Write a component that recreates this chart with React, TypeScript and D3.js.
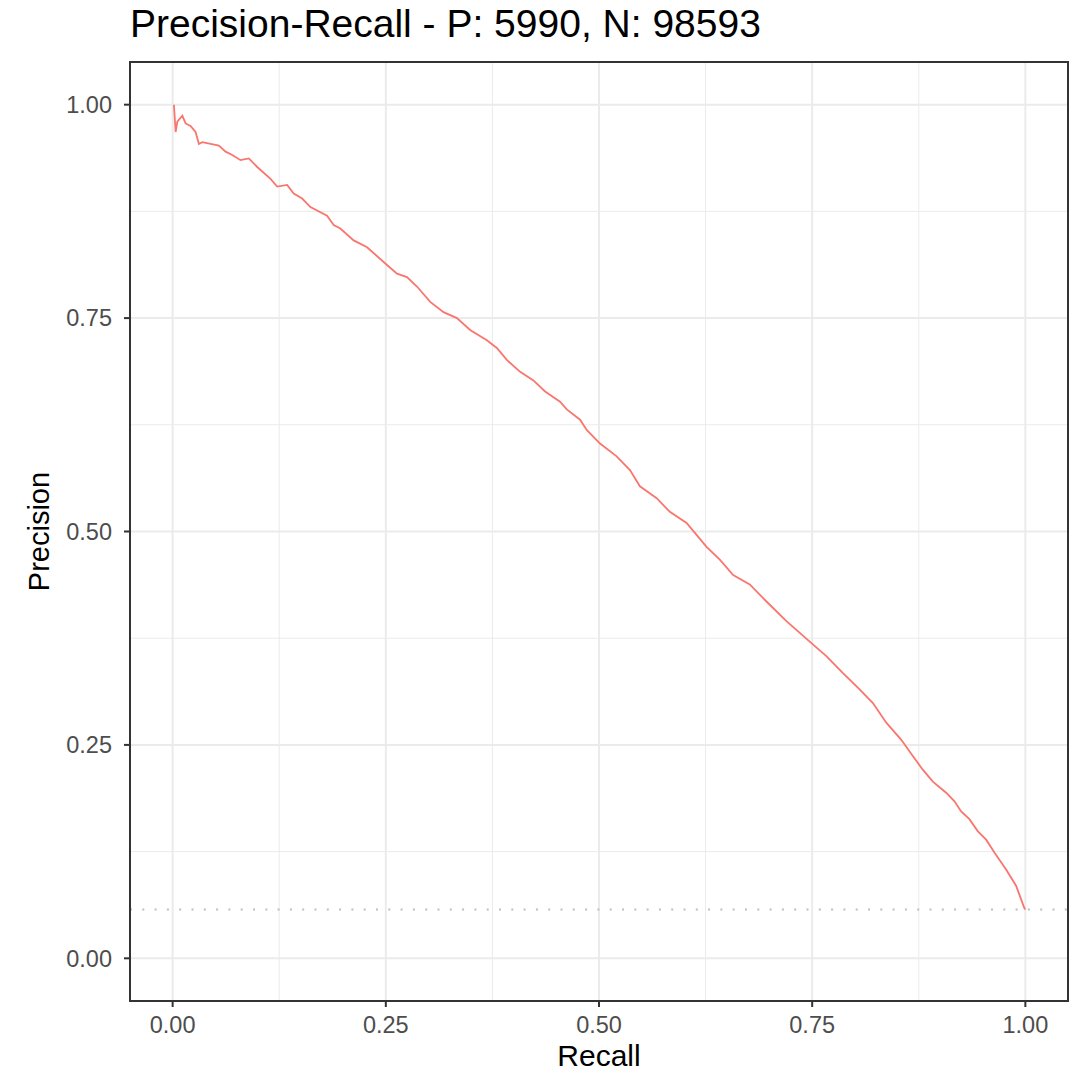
import * as d3 from "d3";

// precision-recall curve
const recall = [
  0.0015, 0.0035, 0.0055, 0.0114, 0.0152, 0.021, 0.0269, 0.0308, 0.0348, 0.0445,
  0.0542, 0.0621, 0.0699, 0.0796, 0.0893, 0.0992, 0.1148, 0.1226, 0.1343, 0.142,
  0.1519, 0.1616, 0.1811, 0.1889, 0.1967, 0.2123, 0.228, 0.2494, 0.2631, 0.2748,
  0.2865, 0.3021, 0.3177, 0.3334, 0.3489, 0.3685, 0.3802, 0.3919, 0.4075, 0.4231,
  0.4368, 0.4543, 0.4622, 0.4778, 0.4856, 0.5012, 0.5207, 0.5363, 0.548, 0.5676,
  0.5831, 0.6027, 0.6144, 0.6261, 0.6417, 0.6573, 0.6768, 0.6964, 0.7198, 0.7471,
  0.7666, 0.7861, 0.8056, 0.8212, 0.8369, 0.8545, 0.868, 0.8797, 0.8915, 0.9071,
  0.9169, 0.9247, 0.9344, 0.9441, 0.954, 0.9637, 0.9774, 0.9891, 0.9988, 1.0,
];
const precision = [
  1.0, 0.968, 0.98, 0.987, 0.978, 0.975, 0.968, 0.954, 0.956, 0.954,
  0.952, 0.945, 0.941, 0.935, 0.937, 0.927, 0.913, 0.904, 0.906, 0.896,
  0.89, 0.88, 0.87, 0.859, 0.855, 0.841, 0.833, 0.814, 0.802, 0.798,
  0.787, 0.769, 0.757, 0.75, 0.736, 0.724, 0.715, 0.701, 0.687, 0.677,
  0.664, 0.652, 0.643, 0.631, 0.619, 0.603, 0.588, 0.572, 0.553, 0.539,
  0.523, 0.51, 0.496, 0.482, 0.467, 0.449, 0.438, 0.418, 0.395, 0.371,
  0.354, 0.334, 0.315, 0.299, 0.276, 0.256, 0.237, 0.221, 0.207, 0.194,
  0.184, 0.172, 0.163, 0.149, 0.139, 0.124, 0.104, 0.085, 0.059, 0.0573,
];
const positives = 5990;
const negatives = 98593;
const majorTicks = [0, 0.25, 0.5, 0.75, 1];
const minorTicks = [0.125, 0.375, 0.625, 0.875];

export default function App() {
  const width = 1086;
  const height = 1072;
  const margin = { top: 62, right: 18, bottom: 71, left: 130 };
  const font = "'Liberation Sans', Arial, sans-serif";

  const x = d3
    .scaleLinear()
    .domain([-0.05, 1.05])
    .range([margin.left, width - margin.right]);
  const y = d3
    .scaleLinear()
    .domain([-0.05, 1.05])
    .range([height - margin.bottom, margin.top]);

  const points = recall.map((r, i) => ({ r, p: precision[i] }));
  const line = d3
    .line<{ r: number; p: number }>()
    .x((d) => x(d.r))
    .y((d) => y(d.p));

  const baseline = positives / (positives + negatives);
  const [x0, x1] = x.range();
  const [y0, y1] = y.range();

  return (
    <svg
      width={width}
      height={height}
      style={{ position: "absolute", left: 0, top: 0, background: "#fff" }}
    >
      <text x={130} y={37} fontFamily={font} fontSize={39} fill="#000">
        Precision-Recall - P: {positives}, N: {negatives}
      </text>

      {/* grid */}
      {minorTicks.map((t) => (
        <g key={"m" + t}>
          <line x1={x(t)} x2={x(t)} y1={y1} y2={y0} stroke="#ebebeb" strokeWidth={1} />
          <line x1={x0} x2={x1} y1={y(t)} y2={y(t)} stroke="#ebebeb" strokeWidth={1} />
        </g>
      ))}
      {majorTicks.map((t) => (
        <g key={"M" + t}>
          <line x1={x(t)} x2={x(t)} y1={y1} y2={y0} stroke="#ebebeb" strokeWidth={2} />
          <line x1={x0} x2={x1} y1={y(t)} y2={y(t)} stroke="#ebebeb" strokeWidth={2} />
        </g>
      ))}

      <line
        x1={x0}
        x2={x1}
        y1={y(baseline)}
        y2={y(baseline)}
        stroke="#bdbdbd"
        strokeWidth={2}
        strokeDasharray="2 10.3"
      />

      <path d={line(points) ?? ""} fill="none" stroke="#F8766D" strokeWidth={1.8} />

      <rect
        x={x0}
        y={y1}
        width={x1 - x0}
        height={y0 - y1}
        fill="none"
        stroke="#333333"
        strokeWidth={2}
      />

      {/* y axis */}
      {majorTicks.map((t) => (
        <g key={"y" + t}>
          <line x1={x0 - 6} x2={x0} y1={y(t)} y2={y(t)} stroke="#333333" strokeWidth={2} />
          <text
            x={x0 - 18}
            y={y(t)}
            dy="0.35em"
            textAnchor="end"
            fontFamily={font}
            fontSize={23.5}
            fill="#4d4d4d"
          >
            {d3.format(".2f")(t)}
          </text>
        </g>
      ))}

      {/* x axis */}
      {majorTicks.map((t) => (
        <g key={"x" + t}>
          <line x1={x(t)} x2={x(t)} y1={y0} y2={y0 + 6} stroke="#333333" strokeWidth={2} />
          <text
            x={x(t)}
            y={y0 + 32}
            textAnchor="middle"
            fontFamily={font}
            fontSize={23.5}
            fill="#4d4d4d"
          >
            {d3.format(".2f")(t)}
          </text>
        </g>
      ))}

      <text
        x={(x0 + x1) / 2}
        y={1066}
        textAnchor="middle"
        fontFamily={font}
        fontSize={30}
        fill="#000"
      >
        Recall
      </text>
      <text
        transform={`translate(49, ${(y0 + y1) / 2}) rotate(-90)`}
        textAnchor="middle"
        fontFamily={font}
        fontSize={29}
        fill="#000"
      >
        Precision
      </text>
    </svg>
  );
}
